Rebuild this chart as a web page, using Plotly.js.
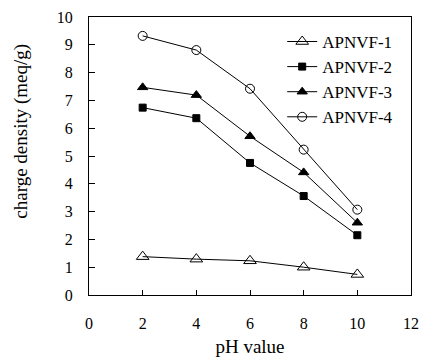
<!DOCTYPE html>
<html>
<head>
<meta charset="utf-8">
<script src="https://cdn.plot.ly/plotly-3.0.1.min.js"></script>
<style>html,body{margin:0;padding:0;background:#fff;}#chart{width:421px;height:360px;}</style>
</head>
<body>
<div id="chart"></div>
<script>
const pH = [2, 4, 6, 8, 10];
const seriesNames = ['APNVF-1', 'APNVF-2', 'APNVF-3', 'APNVF-4'];
const apnvf1 = [1.38, 1.29, 1.23, 1.0, 0.74];
const apnvf2 = [6.74, 6.36, 4.75, 3.56, 2.15];
const apnvf3 = [7.47, 7.19, 5.71, 4.41, 2.6];
const apnvf4 = [9.32, 8.81, 7.42, 5.23, 3.07];
const xTicks = [0, 2, 4, 6, 8, 10, 12];
const yTicks = [0, 1, 2, 3, 4, 5, 6, 7, 8, 9, 10];
const xTitle = 'pH value';
const yTitle = 'charge density (meq/g)';

const fam = '"Liberation Serif", "Times New Roman", serif';
const tickFont = {family: fam, color: '#000', size: 16};
const titleFont = {family: fam, color: '#000', size: 19};
const line = {color: '#000', width: 1};

const traces = [
  {y: apnvf1, symbol: 'triangle-up-open', size: 11},
  {y: apnvf2, symbol: 'square', size: 7},
  {y: apnvf3, symbol: 'triangle-up', size: 9},
  {y: apnvf4, symbol: 'circle-open', size: 9}
].map((t, i) => ({
  x: pH, y: t.y, name: seriesNames[i], type: 'scatter', mode: 'lines+markers',
  line: line,
  marker: {symbol: t.symbol, size: t.size, color: '#000', line: {color: '#000', width: 1}}
}));

const layout = {
  width: 421, height: 360,
  margin: {l: 89, r: 10, t: 17, b: 65},
  paper_bgcolor: '#fff', plot_bgcolor: '#fff',
  font: tickFont,
  showlegend: true,
  legend: {x: 0.6, y: 0.975, xanchor: 'left', yanchor: 'top', bgcolor: 'rgba(0,0,0,0)',
           font: {family: fam, size: 17, color: '#000'}, tracegroupgap: 0},
  xaxis: {
    range: [0, 12], tickvals: xTicks, ticktext: xTicks.map(String),
    ticks: 'inside', ticklen: 5, tickcolor: '#000', tickwidth: 1,
    showline: true, linecolor: '#000', linewidth: 1, mirror: true,
    showgrid: false, zeroline: false, ticklabelstandoff: 14,
    tickfont: tickFont,
    title: {text: xTitle, font: titleFont, standoff: 8}
  },
  yaxis: {
    range: [0, 10], tickvals: yTicks, ticktext: yTicks.map(String),
    ticks: 'inside', ticklen: 6, tickcolor: '#000', tickwidth: 1,
    showline: true, linecolor: '#000', linewidth: 1, mirror: true,
    showgrid: false, zeroline: false, ticklabelstandoff: 12,
    tickfont: tickFont
  },
  annotations: [{
    text: yTitle, textangle: -90, showarrow: false,
    xref: 'paper', yref: 'paper', x: -0.212, y: 0.59,
    xanchor: 'center', yanchor: 'middle', font: titleFont
  }]
};

Plotly.newPlot('chart', traces, layout, {displayModeBar: false, staticPlot: true});
</script>
</body>
</html>
